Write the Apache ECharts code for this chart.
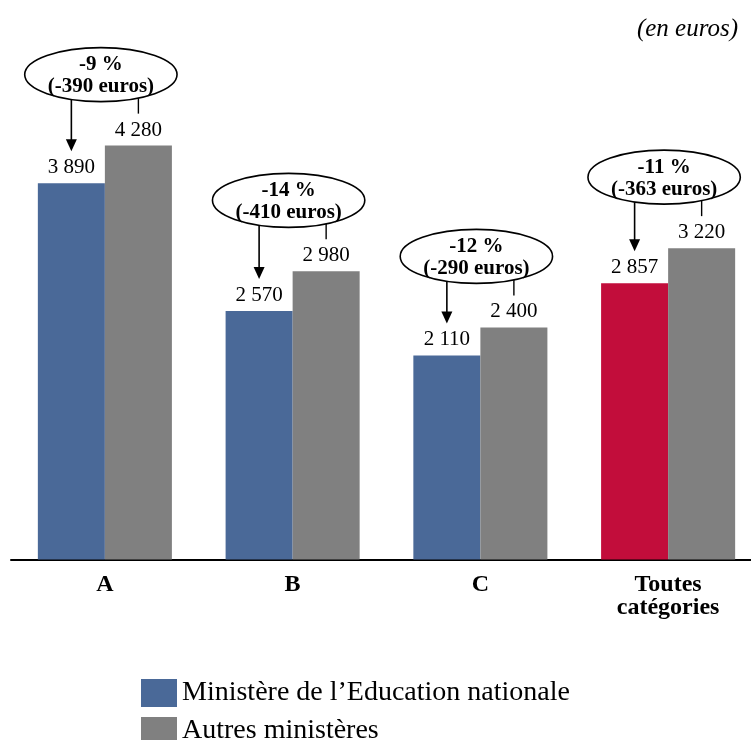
<!DOCTYPE html>
<html>
<head>
    <meta charset="utf-8">
    <title>Salaires</title>
    <script src="https://cdn.jsdelivr.net/npm/echarts@6/dist/echarts.min.js"></script>
    <style>
        body { margin: 0; background: #fff; }
    </style>
</head>
<body>
    <div id="main" style="width: 751px;height:740px;"></div>
    <script type="text/javascript">
        // donnees
        var categories = ['A', 'B', 'C', 'Toutes\ncatégories'];
        var educValues = [3890, 2570, 2110, 2857];
        var autresValues = [4280, 2980, 2400, 3220];
        var ecartPct = [-9, -14, -12, -11];
        var ecartEuros = [-390, -410, -290, -363];
        var seriesNames = ['Ministère de l’Education nationale', 'Autres ministères'];

        var FONT = '"Liberation Serif", serif';
        var BLUE = '#4a6998';
        var GREY = '#808080';
        var RED = '#c20d3b';
        var CAT_GAP = 0.286;

        function fmt(v) {
            return String(v).replace(/\B(?=(\d{3})+(?!\d))/g, ' ');
        }

        var measureCtx = document.createElement('canvas').getContext('2d');
        measureCtx.font = 'bold 21px ' + FONT;

        function renderEcart(params, api) {
            var i = api.value(0);
            var greyPt = api.coord([i, api.value(2)]);
            var blueTop = api.coord([i, api.value(1)])[1];
            var catW = api.size([1, 0])[0];
            var barW = catW * (1 - CAT_GAP) / 2;
            var blueX = greyPt[0] - barW / 2;
            var greyX = greyPt[0] + barW / 2;
            var greyTop = greyPt[1];
            var cx = greyPt[0] - 4;

            var line1 = ecartPct[i] + ' %';
            var line2 = '(' + ecartEuros[i] + ' euros)';
            var tw = Math.max(measureCtx.measureText(line1).width, measureCtx.measureText(line2).width);
            var rx = tw / 2 + 23;
            var ry = 27;
            var cy = greyTop - 71;

            function edgeY(x) {
                var d = (x - cx) / rx;
                return cy + ry * Math.sqrt(Math.max(0, 1 - d * d));
            }

            var tipY = blueTop - 32;
            return {
                type: 'group',
                children: [
                    {
                        type: 'line',
                        shape: { x1: blueX, y1: edgeY(blueX), x2: blueX, y2: tipY - 11 },
                        style: { stroke: '#000', lineWidth: 1.6 }
                    },
                    {
                        type: 'polygon',
                        shape: { points: [[blueX - 5.5, tipY - 12], [blueX + 5.5, tipY - 12], [blueX, tipY]] },
                        style: { fill: '#000' }
                    },
                    {
                        type: 'line',
                        shape: { x1: greyX, y1: edgeY(greyX), x2: greyX, y2: greyTop - 32 },
                        style: { stroke: '#000', lineWidth: 1.4 }
                    },
                    {
                        type: 'ellipse',
                        shape: { cx: cx, cy: cy, rx: rx, ry: ry },
                        style: { fill: '#fff', stroke: '#000', lineWidth: 1.6 }
                    },
                    {
                        type: 'text',
                        style: {
                            text: line1 + '\n' + line2,
                            x: cx, y: cy + 1,
                            align: 'center', verticalAlign: 'middle',
                            font: 'bold 21px ' + FONT,
                            lineHeight: 22,
                            fill: '#000'
                        }
                    }
                ]
            };
        }

        var legendBase = {
            orient: 'vertical',
            left: 141,
            padding: 0,
            icon: 'rect',
            itemWidth: 36,
            itemHeight: 28,
            textStyle: { fontFamily: FONT, fontSize: 28, color: '#000' }
        };

        var myChart = echarts.init(document.getElementById('main'));
        var option = {
            animation: false,
            backgroundColor: '#fff',
            title: {
                text: '(en euros)',
                right: 8,
                top: 12,
                textStyle: { fontFamily: FONT, fontStyle: 'italic', fontWeight: 'normal', fontSize: 25, color: '#000' }
            },
            legend: [
                Object.assign({}, legendBase, { top: 679, data: [seriesNames[0]] }),
                Object.assign({}, legendBase, { top: 717, data: [seriesNames[1]] })
            ],
            grid: {
                left: 11,
                width: 751,
                top: 76,
                bottom: 180.5,
                outerBoundsMode: 'none'
            },
            xAxis: {
                type: 'category',
                data: categories,
                axisLine: { lineStyle: { color: '#000', width: 2 } },
                axisTick: { show: false },
                axisLabel: {
                    fontFamily: FONT, fontWeight: 'bold', fontSize: 24, color: '#000',
                    lineHeight: 23, margin: 14
                }
            },
            yAxis: {
                type: 'value',
                min: 0,
                max: 5000,
                show: false,
                splitLine: { show: false }
            },
            series: [
                {
                    name: seriesNames[0],
                    type: 'bar',
                    barGap: 0,
                    barCategoryGap: (CAT_GAP * 100) + '%',
                    itemStyle: { color: BLUE },
                    label: {
                        show: true, position: 'top', distance: 5,
                        fontFamily: FONT, fontSize: 21, color: '#000',
                        formatter: function (p) { return fmt(p.value); }
                    },
                    data: educValues.map(function (v, i) {
                        return i === educValues.length - 1 ? { value: v, itemStyle: { color: RED } } : v;
                    })
                },
                {
                    name: seriesNames[1],
                    type: 'bar',
                    barGap: 0,
                    barCategoryGap: (CAT_GAP * 100) + '%',
                    itemStyle: { color: GREY },
                    label: {
                        show: true, position: 'top', distance: 5,
                        fontFamily: FONT, fontSize: 21, color: '#000',
                        formatter: function (p) { return fmt(p.value); }
                    },
                    data: autresValues
                },
                {
                    type: 'custom',
                    renderItem: renderEcart,
                    silent: true,
                    z: 5,
                    data: categories.map(function (c, i) {
                        return [i, educValues[i], autresValues[i]];
                    })
                }
            ]
        };
        myChart.setOption(option);
    </script>
</body>
</html>
